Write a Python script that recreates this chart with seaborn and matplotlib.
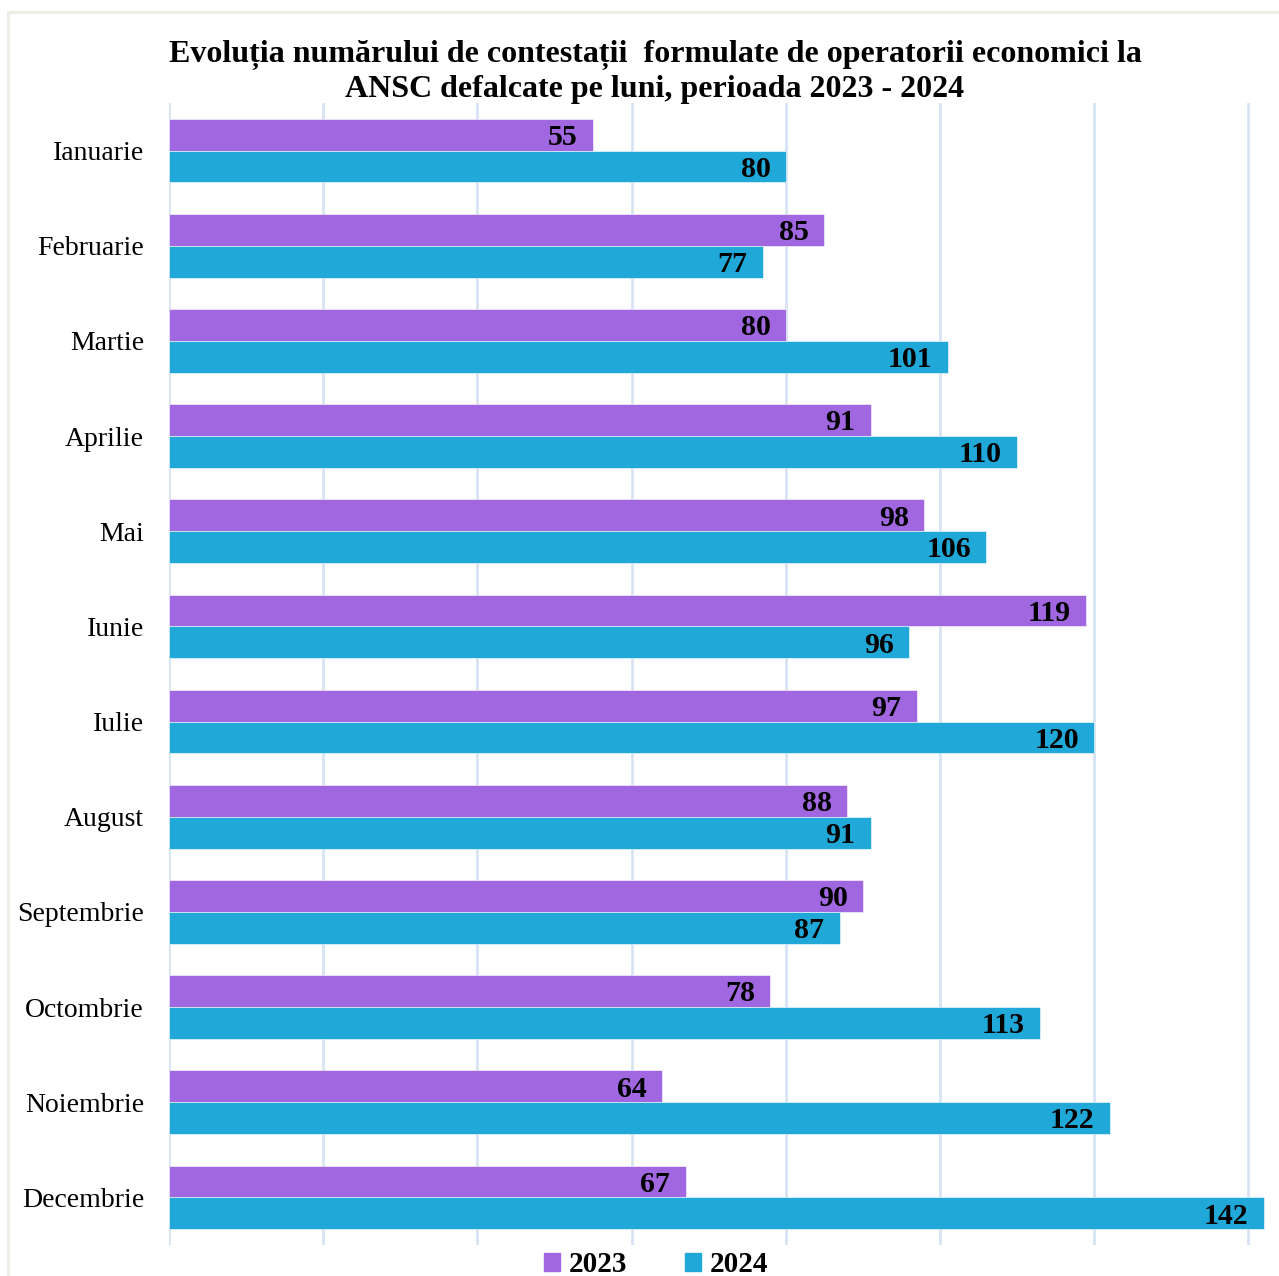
import matplotlib
matplotlib.use("Agg")
import matplotlib.pyplot as plt
import seaborn as sns
import pandas as pd
from matplotlib.patches import Rectangle

months = ["Ianuarie", "Februarie", "Martie", "Aprilie", "Mai", "Iunie", "Iulie",
          "August", "Septembrie", "Octombrie", "Noiembrie", "Decembrie"]
values_2023 = [55, 85, 80, 91, 98, 119, 97, 88, 90, 78, 64, 67]
values_2024 = [80, 77, 101, 110, 106, 96, 120, 91, 87, 113, 122, 142]
years = ["2023", "2024"]
colors = ["#A067E0", "#20A9D8"]
title = ("Evoluția numărului de contestații  formulate de operatorii economici la\n"
         "ANSC defalcate pe luni, perioada 2023 - 2024")

df = pd.DataFrame({
    "Luna": months * 2,
    "An": [years[0]] * len(months) + [years[1]] * len(months),
    "Valoare": values_2023 + values_2024,
})

sns.set_theme(style="white")
plt.rcParams["font.family"] = ["Liberation Serif", "DejaVu Serif"]
plt.rcParams["text.color"] = "black"

fig = plt.figure(figsize=(12.79, 12.76), dpi=100)
ax = fig.add_axes([169 / 1279, 1 - 1245 / 1276, (1266 - 169) / 1279, (1245 - 103) / 1276])

sns.barplot(data=df, y="Luna", x="Valoare", hue="An", order=months, hue_order=years,
            palette=colors, orient="h", width=0.67, ax=ax, legend=False,
            edgecolor="#FFFFFF", linewidth=0.4, saturation=1)

ax.set_xlim(0, 142.3)
ax.set_ylim(11.5, -0.5)
ax.set_xticks(range(0, 141, 20))
ax.set_xticklabels([])
ax.grid(axis="x", color="#D6E3F3", linewidth=2)
ax.grid(axis="y", visible=False)
ax.set_axisbelow(True)
for s in ax.spines.values():
    s.set_visible(False)
ax.set_xlabel("")
ax.set_ylabel("")
ax.tick_params(axis="y", length=0, pad=18, labelsize=20, labelcolor="black")
ax.tick_params(axis="x", length=0)

for cont in ax.containers:
    for bar in cont:
        w = bar.get_width()
        yc = bar.get_y() + bar.get_height() / 2
        ax.annotate(f"{int(round(w))}", xy=(w, yc), xytext=(-11, -2),
                    textcoords="offset points", ha="right", va="center",
                    fontsize=21.5, fontweight="bold", color="black")

fig.text(655 / 1279, 1 - 72 / 1276, title, ha="center", va="center",
         fontsize=23, fontweight="bold", linespacing=1.22, color="black")

# legend
handles = [Rectangle((0, 0), 1, 1, color=c) for c in colors]
leg = fig.legend(handles, years, loc="center", bbox_to_anchor=(656 / 1279, 1 - 1265 / 1276),
                 ncol=2, frameon=False, prop={"size": 21, "weight": "bold"},
                 handlelength=0.55, handleheight=0.55, handletextpad=0.3, columnspacing=2.0)
for t in leg.get_texts():
    t.set_color("black")

# outer border
fig.patches.append(Rectangle((8 / 1279, -0.01), 1.0, 1 - 12 / 1276 + 0.01,
                             transform=fig.transFigure, fill=False,
                             edgecolor="#EDEDE3", linewidth=2))

fig.savefig("out.png", dpi=100)
